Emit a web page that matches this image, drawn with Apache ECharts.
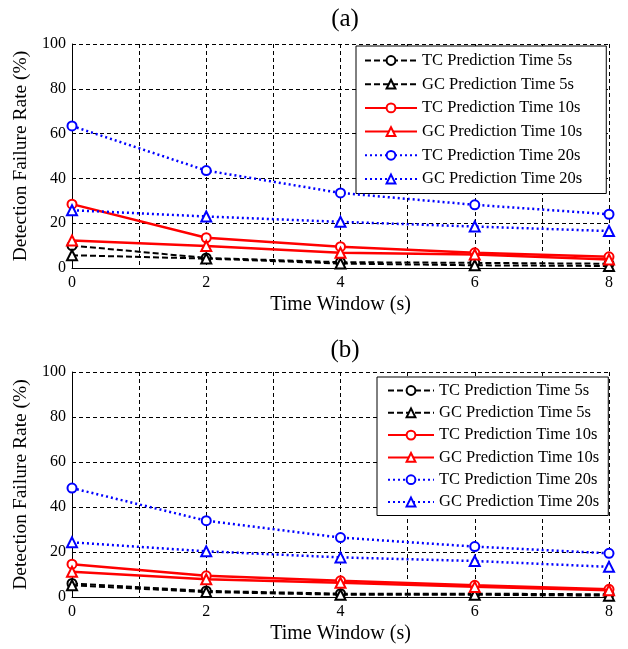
<!DOCTYPE html>
<html>
<head>
<meta charset="utf-8">
<script src="https://cdn.jsdelivr.net/npm/echarts@6/dist/echarts.min.js"></script>
<style>html,body{margin:0;padding:0;background:#fff}#c{width:628px;height:649px}</style>
</head>
<body>
<div id="c"></div>
<script>
const timeWindow = [0, 2, 4, 6, 8];
const seriesNames = ['TC Prediction Time 5s', 'GC Prediction Time 5s', 'TC Prediction Time 10s', 'GC Prediction Time 10s', 'TC Prediction Time 20s', 'GC Prediction Time 20s'];
// panel (a)
const aTC5 = [10, 4.5, 2.6, 2.3, 1.9];
const aGC5 = [5.7, 4.2, 2, 1.2, 0.9];
const aTC10 = [28.5, 13.5, 9.5, 6.8, 5];
const aGC10 = [12.3, 9.8, 6.8, 6, 3.8];
const aTC20 = [63.4, 43.5, 33.5, 28.2, 24];
const aGC20 = [25.8, 23, 20.6, 18.5, 16.5];
// panel (b)
const bTC5 = [6, 2.7, 1.5, 1.5, 1.2];
const bGC5 = [5.2, 2.2, 1, 1, 0.6];
const bTC10 = [14.6, 9.4, 7.2, 5.2, 3.4];
const bGC10 = [11.2, 7.9, 6.3, 4.5, 3];
const bTC20 = [48.4, 33.9, 26.4, 22.4, 19.4];
const bGC20 = [24.3, 20.3, 17.6, 16, 13.4];
const panelTitles = ['(a)', '(b)'];
const xTitle = 'Time Window (s)';
const yTitle = 'Detection Failure Rate (%)';

const FONT = 'Liberation Serif';
const styles = [
  {color: '#000', type: [6, 3], width: 2, symbol: 'emptyCircle', size: 9},
  {color: '#000', type: [6, 3], width: 2, symbol: 'emptyTriangle', size: 10},
  {color: '#ff0000', type: 'solid', width: 2.5, symbol: 'emptyCircle', size: 9},
  {color: '#ff0000', type: 'solid', width: 2.5, symbol: 'emptyTriangle', size: 10},
  {color: '#0000ff', type: [2, 3], width: 2.5, symbol: 'emptyCircle', size: 9},
  {color: '#0000ff', type: [2, 3], width: 2.5, symbol: 'emptyTriangle', size: 10}
];
const panels = [[aTC5, aGC5, aTC10, aGC10, aTC20, aGC20], [bTC5, bGC5, bTC10, bGC10, bTC20, bGC20]];

const grids = [
  {left: 72, right: 19, top: 44, height: 224},
  {left: 72, right: 19, top: 372, height: 225}
];
const gridLine = {show: true, lineStyle: {color: '#000', type: [4, 3], width: 1}};
const xAxes = grids.map((g, i) => ({
  type: 'value', gridIndex: i, min: 0, max: 8, interval: 2,
  name: xTitle, nameLocation: 'middle', nameGap: 27,
  nameTextStyle: {fontFamily: FONT, fontSize: 20, color: '#000'},
  axisLine: {show: true, onZero: false, lineStyle: {color: '#000', width: 1}},
  axisTick: {show: false},
  axisLabel: {fontFamily: FONT, fontSize: 16, color: '#000', margin: 7},
  splitLine: gridLine,
  minorTick: {show: false, splitNumber: 2},
  minorSplitLine: {show: true, lineStyle: {color: '#000', type: [4, 3], width: 1}}
}));
const yAxes = grids.map((g, i) => ({
  type: 'value', gridIndex: i, min: 0, max: 100, interval: 20,
  name: yTitle, nameLocation: 'middle', nameGap: 41,
  nameTextStyle: {fontFamily: FONT, fontSize: 19.5, color: '#000'},
  axisLine: {show: true, lineStyle: {color: '#000', width: 1}},
  axisTick: {show: false},
  axisLabel: {fontFamily: FONT, fontSize: 16, color: '#000', margin: 6},
  splitLine: gridLine
}));
const series = [];
panels.forEach((vals, p) => {
  vals.forEach((arr, k) => {
    const s = styles[k];
    series.push({
      name: seriesNames[k], type: 'line', xAxisIndex: p, yAxisIndex: p,
      data: timeWindow.map((x, j) => [x, arr[j]]),
      symbol: s.symbol, symbolSize: s.size, showAllSymbol: true,
      lineStyle: {color: s.color, type: s.type, width: s.width},
      itemStyle: {color: s.color, borderColor: s.color, borderWidth: 2},
      emphasis: {disabled: true}, animation: false, z: 3 + k
    });
  });
});
const legendBase = {
  orient: 'vertical', data: seriesNames, borderColor: '#000', borderWidth: 1,
  backgroundColor: '#fff', itemHeight: 11,
  textStyle: {fontFamily: FONT, fontSize: 16.5, color: '#000'}, selectedMode: false
};
const option = {
  backgroundColor: '#fff',
  animation: false,
  title: panelTitles.map((t, i) => ({
    text: t, left: 340, top: i === 0 ? 2 : 333, textAlign: 'center',
    textStyle: {fontFamily: FONT, fontSize: 25, fontWeight: 'normal', color: '#000'}
  })),
  legend: [
    Object.assign({}, legendBase, {left: 356, top: 46, itemWidth: 52, itemGap: 6.7, padding: [6, 24, 6, 8]}),
    Object.assign({}, legendBase, {left: 377, top: 377, itemWidth: 46, itemGap: 5.3, padding: [5, 9, 5, 10]})
  ],
  grid: grids,
  xAxis: xAxes,
  yAxis: yAxes,
  series: series
};
const chart = echarts.init(document.getElementById('c'), null, {renderer: 'canvas'});
chart.setOption(option);
</script>
</body>
</html>
